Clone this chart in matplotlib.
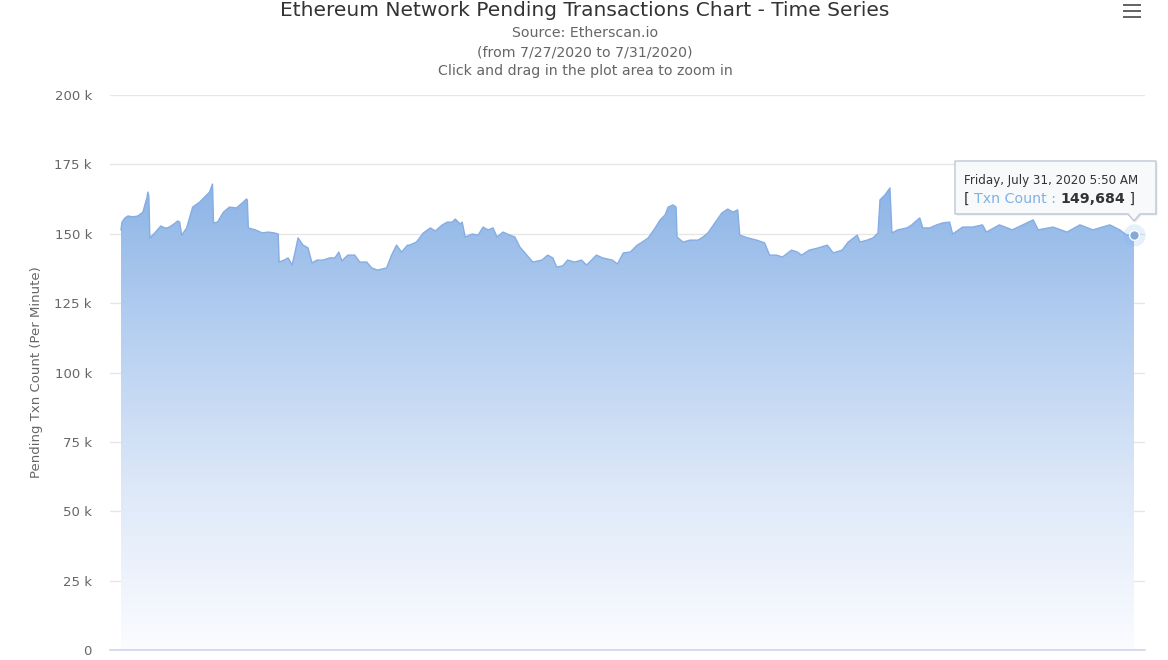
import matplotlib
matplotlib.use("Agg")
import matplotlib.pyplot as plt
import matplotlib.dates as mdates
from matplotlib.colors import LinearSegmentedColormap
from matplotlib.patches import FancyBboxPatch, Polygon
import numpy as np
import pandas as pd

# ---------------- data ----------------
start_time = "2020-07-27 00:00"
hours = [0.0, 0.1, 0.4, 0.7, 1.2, 1.7, 2.2, 2.6, 2.7, 2.8, 2.9, 3.4, 4.0, 4.4, 4.7, 5.2, 5.7, 5.9,
         6.1, 6.6, 7.2, 7.9, 8.4, 8.9, 9.2, 9.3, 9.7, 10.3, 10.9, 11.6, 12.2, 12.6, 12.7, 12.8,
         13.5, 14.2, 14.8, 15.4, 15.8, 15.9, 16.4, 16.8, 17.2, 17.5, 17.8, 18.3, 18.8, 19.2,
         19.7, 20.3, 21.0, 21.5, 21.9, 22.2, 22.8, 23.5, 24.0, 24.7, 25.2, 25.8, 26.7, 27.2,
         27.7, 28.2, 28.8, 29.0, 29.7, 30.4, 31.1, 31.6, 32.3, 32.8, 33.3, 33.6, 34.1, 34.3,
         34.6, 35.3, 35.9, 36.4, 36.9, 37.4, 37.8, 38.4, 39.1, 39.6, 40.1, 40.8, 41.4, 42.3,
         42.9, 43.4, 43.8, 44.4, 44.9, 45.6, 46.3, 46.8, 47.8, 48.4, 49.4, 49.9, 50.5, 51.2,
         51.9, 52.4, 53.0, 53.7, 54.2, 54.7, 55.0, 55.5, 55.8, 55.9, 56.5, 57.2, 58.0, 58.5,
         59.0, 59.7, 60.4, 61.0, 61.5, 62.0, 62.2, 63.0, 63.9, 64.7, 65.2, 65.9, 66.5, 67.4,
         68.0, 68.4, 69.2, 70.1, 71.0, 71.6, 72.5, 73.1, 74.0, 74.3, 75.0, 75.6, 76.1, 76.3,
         76.8, 77.3, 77.5, 78.1, 79.0, 79.5, 79.8, 80.3, 80.6, 81.3, 82.0, 82.6, 83.3, 83.6,
         84.6, 85.6, 86.6, 87.0, 88.3, 89.6, 91.7, 92.2, 93.7, 95.1, 96.4, 97.7, 99.4, 100.4,
         101.1, 101.8333]
txn_count = [151400, 154200, 155700, 156400, 156100, 156400, 157800, 162900, 165000, 163600,
             148500, 150300, 152800, 152100, 152100, 153200, 154600, 154200, 149500, 152100,
             159600, 161400, 163200, 165000, 167900, 153900, 154200, 157800, 159600, 159300,
             161100, 162500, 162200, 152100, 151400, 150300, 150600, 150300, 149900, 139800,
             140500, 141300, 138700, 143400, 148500, 145900, 144900, 139500, 140500, 140500,
             141300, 141300, 143400, 140200, 142300, 142300, 139800, 139800, 137700, 136900,
             137700, 142300, 145900, 143400, 145900, 145900, 147000, 150300, 152100, 151000,
             153200, 154200, 154200, 155300, 153500, 154200, 148800, 149900, 149500, 152400,
             151400, 152100, 148800, 150600, 149500, 148800, 145200, 142300, 139800, 140500,
             142300, 141300, 138000, 138400, 140500, 139800, 140500, 138700, 142300, 141300,
             140500, 139100, 143100, 143400, 145900, 147000, 148500, 152100, 155000, 156800,
             159600, 160400, 159600, 148800, 147000, 147700, 147700, 148800, 150300, 153900,
             157500, 158900, 157800, 158600, 149500, 148500, 147700, 146700, 142300, 142300,
             141600, 144100, 143400, 142300, 144100, 144900, 145900, 143100, 144100, 147000,
             149500, 147000, 147700, 148500, 150300, 162200, 164000, 166500, 150300, 151400,
             152100, 153200, 154200, 155700, 152100, 152100, 153200, 153900, 154200, 149900,
             152400, 152400, 153200, 150600, 153200, 151400, 155000, 151400, 152400, 150600,
             153200, 151400, 153200, 151400, 149500, 149684]
y_ticks = [0, 25000, 50000, 75000, 100000, 125000, 150000, 175000, 200000]
y_tick_labels = ["0", "25 k", "50 k", "75 k", "100 k", "125 k", "150 k", "175 k", "200 k"]

title = "Ethereum Network Pending Transactions Chart - Time Series"
subtitle_lines = ["Source: Etherscan.io", "(from 7/27/2020 to 7/31/2020)",
                  "Click and drag in the plot area to zoom in"]
y_label = "Pending Txn Count (Per Minute)"
tooltip_date = "Friday, July 31, 2020 5:50 AM"
tooltip_series = "Txn Count"
tooltip_value = "149,684"

# ---------------- figure ----------------
W, H = 1168, 660
fig = plt.figure(figsize=(W / 100, H / 100), dpi=100)
fig.patch.set_facecolor("white")

def fx(px):
    return px / W

def fy(py):
    return 1 - py / H

ax = fig.add_axes([fx(110), fy(650), fx(1145) - fx(110), fy(95) - fy(650)])
ax.set_facecolor("white")

times = pd.Timestamp(start_time) + pd.to_timedelta(hours, unit="h")
tnum = mdates.date2num(times.to_pydatetime())
vals = np.array(txn_count, dtype=float)

span = tnum[-1] - tnum[0]
px_per = span / (1134 - 121)
xmin = tnum[0] - 11 * px_per
xmax = tnum[-1] + 11 * px_per

# grid
for v in y_ticks[1:]:
    ax.axhline(v, color="#e6e6e6", lw=1, zorder=0)
ax.axhline(0, color="#ccd6eb", lw=1.2, zorder=5, clip_on=False)

# gradient fill
poly = ax.fill_between(tnum, vals, 0, color="none", lw=0)
cmap = LinearSegmentedColormap.from_list(
    "g", [(0.0, "#fbfcff"), (0.35, "#dde8f8"), (0.7, "#b4cef0"), (1.0, "#8cb4e6")])
grad = np.linspace(0, 1, 256).reshape(-1, 1)
img = ax.imshow(grad, extent=[tnum[0], tnum[-1], 0, 168000], origin="lower",
                aspect="auto", cmap=cmap, zorder=1, interpolation="bilinear")
path = poly.get_paths()[0]
img.set_clip_path(path, transform=ax.transData)
ax.set_xlim(xmin, xmax)
ax.set_ylim(0, 200000)

ax.plot(tnum, vals, color="#86ade2", lw=1.0, zorder=2)

# highlighted end point
ax.plot(tnum[-1], vals[-1], "o", ms=16, color="#7cb5ec", alpha=0.2, mec="none", zorder=6, clip_on=False)
ax.plot(tnum[-1], vals[-1], "o", ms=7, color="#86a9d8", mec="white", mew=1, zorder=7, clip_on=False)

ax.set_yticks(y_ticks)
ax.set_yticklabels(y_tick_labels)
ax.tick_params(axis="y", length=0, pad=13, labelsize=9.5, labelcolor="#666666")
ax.set_xticks([])
for s in ax.spines.values():
    s.set_visible(False)

fig.text(fx(37), fy(372), y_label, rotation=90, ha="center", va="center",
         fontsize=9.5, color="#666666")

# titles
fig.text(fx(585), fy(10), title, ha="center", va="center", fontsize=14.5, color="#333333")
for i, line in enumerate(subtitle_lines):
    fig.text(fx(585), fy(33 + 19 * i), line, ha="center", va="center",
             fontsize=10.2, color="#666666")

# hamburger menu icon
for yy in (4, 10, 16):
    fig.patches.append(FancyBboxPatch((fx(1123), fy(yy + 2)), fx(1141) - fx(1123), fy(yy) - fy(yy + 2.5),
                                      boxstyle="square,pad=0", transform=fig.transFigure,
                                      fc="#666666", ec="none"))

# tooltip
tip_l, tip_r, tip_t, tip_b = 955, 1156, 161, 214
arrow_x = 1134
pts = [(tip_l, tip_b), (tip_l, tip_t), (tip_r, tip_t), (tip_r, tip_b),
       (arrow_x + 6, tip_b), (arrow_x, tip_b + 7), (arrow_x - 6, tip_b)]
shadow = Polygon([(fx(x + 1.5), fy(y + 1.5)) for x, y in pts], closed=True,
                 transform=fig.transFigure, fc="#000000", alpha=0.08, ec="none")
fig.patches.append(shadow)
tip = Polygon([(fx(x), fy(y)) for x, y in pts], closed=True, transform=fig.transFigure,
              fc="#f9fafc", ec="#b8c4d4", lw=1.0, alpha=0.95)
fig.patches.append(tip)
fig.text(fx(964), fy(181), tooltip_date, ha="left", va="center", fontsize=8.6, color="#333333")
t1 = fig.text(fx(964), fy(199), "[ ", ha="left", va="center", fontsize=10.2, color="#333333")
fig.canvas.draw()
r = fig.canvas.get_renderer()
def after(t):
    bb = t.get_window_extent(r)
    return bb.x1 / W
t2 = fig.text(after(t1), fy(199), tooltip_series + " : ", ha="left", va="center",
              fontsize=10.2, color="#7fb2e5")
t3 = fig.text(after(t2), fy(199), tooltip_value, ha="left", va="center",
              fontsize=10.2, color="#333333", fontweight="bold")
t4 = fig.text(after(t3), fy(199), " ]", ha="left", va="center", fontsize=10.2, color="#333333")

fig.savefig("out.png", dpi=100, facecolor="white")
